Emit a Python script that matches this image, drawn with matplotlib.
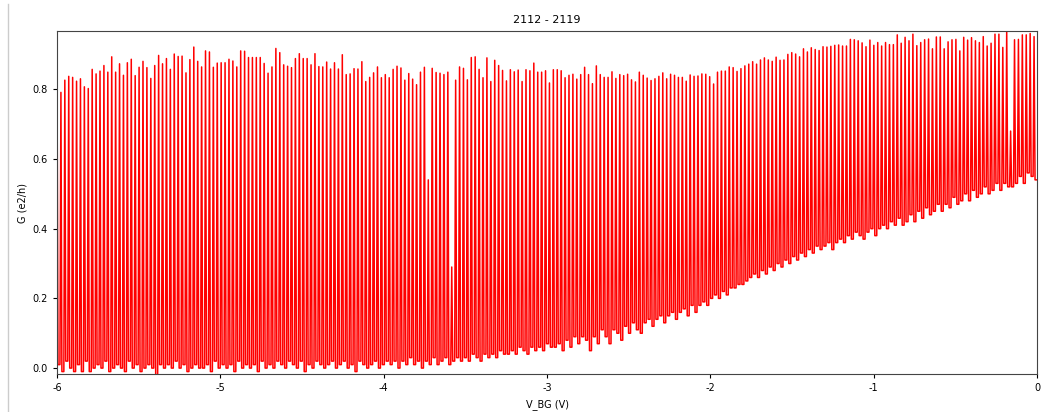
import numpy as np
import matplotlib.pyplot as plt

plt.rcParams['axes.unicode_minus'] = False

# G maxima of each resonance along the back-gate sweep (e2/h), left to right
peaks_1 = [0.842, 0.791, 0.826, 0.837, 0.834, 0.823, 0.830, 0.807, 0.802, 0.857, 0.844, 0.852, 0.868, 0.849, 0.893,
           0.849, 0.873, 0.840, 0.876, 0.886, 0.839, 0.863, 0.880, 0.862, 0.831, 0.868, 0.897, 0.873, 0.888, 0.857,
           0.901, 0.894, 0.895, 0.847, 0.885, 0.921, 0.880, 0.864, 0.910, 0.907, 0.863, 0.875, 0.876]
peaks_2 = [0.876, 0.886, 0.881, 0.864, 0.910, 0.909, 0.891, 0.891, 0.891, 0.891, 0.874, 0.846, 0.864, 0.917, 0.905,
           0.870, 0.866, 0.862, 0.888, 0.902, 0.888, 0.888, 0.870, 0.902, 0.865, 0.864, 0.878, 0.858, 0.876, 0.858,
           0.899, 0.842, 0.844, 0.859, 0.858, 0.879, 0.822, 0.834, 0.847, 0.864, 0.833, 0.842]
peaks_3 = [0.833, 0.857, 0.866, 0.861, 0.826, 0.845, 0.829, 0.813, 0.849, 0.863, 0.540, 0.860, 0.848, 0.846, 0.842,
           0.849, 0.290, 0.826, 0.864, 0.860, 0.827, 0.891, 0.893, 0.857, 0.833, 0.890, 0.822, 0.883, 0.868, 0.854,
           0.824, 0.856, 0.850, 0.855, 0.822, 0.856, 0.853, 0.875, 0.849, 0.849, 0.853, 0.818, 0.856]
peaks_4 = [0.856, 0.853, 0.833, 0.840, 0.843, 0.829, 0.842, 0.863, 0.842, 0.816, 0.867, 0.842, 0.834, 0.834, 0.850,
           0.831, 0.842, 0.839, 0.843, 0.827, 0.821, 0.849, 0.840, 0.832, 0.825, 0.830, 0.837, 0.847, 0.830, 0.843,
           0.840, 0.834, 0.834, 0.823, 0.841, 0.837, 0.838, 0.844, 0.843, 0.836, 0.815, 0.849]
peaks_5 = [0.852, 0.852, 0.864, 0.862, 0.851, 0.859, 0.867, 0.872, 0.879, 0.872, 0.884, 0.890, 0.884, 0.880, 0.892,
           0.883, 0.884, 0.900, 0.905, 0.901, 0.893, 0.916, 0.907, 0.919, 0.914, 0.911, 0.922, 0.921, 0.923, 0.926,
           0.927, 0.924, 0.924, 0.943, 0.942, 0.939, 0.933, 0.922, 0.941, 0.926, 0.934, 0.924]
peaks_6 = [0.934, 0.928, 0.928, 0.956, 0.932, 0.949, 0.939, 0.958, 0.925, 0.934, 0.942, 0.944, 0.916, 0.950, 0.950,
           0.916, 0.936, 0.942, 0.943, 0.910, 0.949, 0.941, 0.948, 0.939, 0.934, 0.951, 0.924, 0.932, 0.958, 0.958,
           0.920, 0.967, 0.680, 0.942, 0.943, 0.956, 0.956, 0.960, 0.951]

# off-resonance floor of G after each peak
troughs_1 = [0.01, -0.01, 0.02, 0.00, -0.01, 0.01, -0.01, 0.02, -0.01, 0.00, 0.01, 0.00, 0.02, -0.01, 0.00,
             0.01, 0.00, -0.01, 0.02, 0.00, 0.01, -0.01, 0.00, 0.01, 0.00, -0.02, 0.01, 0.00, 0.01, 0.00,
             0.02, 0.00, 0.01, -0.01, 0.00, 0.01, 0.00, 0.00, 0.01, -0.01, 0.02, 0.00, 0.01]
troughs_2 = [0.00, 0.01, -0.01, 0.02, 0.00, 0.01, 0.00, 0.01, -0.01, 0.02, 0.00, 0.01, 0.00, 0.02, 0.01,
             0.00, 0.02, 0.01, 0.00, 0.02, -0.01, 0.01, 0.00, 0.02, 0.01, 0.00, 0.01, 0.02, 0.00, 0.01,
             0.02, 0.00, 0.01, -0.01, 0.02, 0.01, 0.00, 0.01, 0.02, 0.00, 0.01, 0.02]
troughs_3 = [0.01, 0.02, 0.00, 0.02, 0.01, 0.03, 0.01, 0.02, 0.00, 0.02, 0.01, 0.03, 0.01, 0.02, 0.03,
             0.01, 0.02, 0.03, 0.02, 0.03, 0.02, 0.04, 0.03, 0.02, 0.04, 0.03, 0.04, 0.03, 0.05, 0.04,
             0.04, 0.05, 0.04, 0.06, 0.05, 0.04, 0.06, 0.05, 0.06, 0.05, 0.07, 0.06, 0.06]
troughs_4 = [0.07, 0.05, 0.08, 0.06, 0.09, 0.07, 0.09, 0.08, 0.05, 0.09, 0.07, 0.11, 0.09, 0.07, 0.11,
             0.10, 0.08, 0.12, 0.10, 0.13, 0.11, 0.10, 0.13, 0.14, 0.12, 0.14, 0.15, 0.13, 0.15, 0.16,
             0.14, 0.16, 0.17, 0.15, 0.18, 0.16, 0.18, 0.19, 0.18, 0.20, 0.21, 0.20]
troughs_5 = [0.22, 0.21, 0.23, 0.23, 0.24, 0.24, 0.25, 0.26, 0.27, 0.26, 0.28, 0.27, 0.29, 0.28, 0.30,
             0.29, 0.31, 0.30, 0.32, 0.31, 0.33, 0.32, 0.34, 0.33, 0.35, 0.34, 0.35, 0.36, 0.34, 0.36,
             0.37, 0.36, 0.38, 0.37, 0.39, 0.38, 0.37, 0.39, 0.40, 0.38, 0.40, 0.41]
troughs_6 = [0.40, 0.42, 0.41, 0.43, 0.41, 0.42, 0.44, 0.42, 0.45, 0.43, 0.46, 0.44, 0.45, 0.47, 0.45,
             0.47, 0.46, 0.49, 0.47, 0.48, 0.50, 0.48, 0.51, 0.49, 0.50, 0.52, 0.50, 0.51, 0.53, 0.51,
             0.53, 0.52, 0.52, 0.53, 0.55, 0.53, 0.56, 0.55, 0.54]

peaks = np.concatenate([peaks_1, peaks_2, peaks_3, peaks_4, peaks_5, peaks_6])
troughs = np.concatenate([troughs_1, troughs_2, troughs_3, troughs_4, troughs_5, troughs_6])

# one sweep period = sharp peak, then the floor for the remaining three gate steps
G = np.column_stack([peaks, troughs, troughs, troughs]).ravel()
V = np.linspace(-6, 0, len(G))

fig = plt.figure(figsize=(10.48, 4.12), dpi=100)
ax = fig.add_axes([0.0544, 0.0922, 0.9351, 0.8325])
ax.plot(V, G, 'r', lw=1.1)
ax.set_xlim(-6, 0)
ax.set_ylim(-0.017, 0.967)
ax.set_xticks([-6, -5, -4, -3, -2, -1, 0])
ax.set_yticks([0.0, 0.2, 0.4, 0.6, 0.8])
ax.tick_params(labelsize=7, length=3)
ax.set_xlabel('V_BG (V)', fontsize=7)
ax.set_ylabel('G (e2/h)', fontsize=7)
ax.set_title('2112 - 2119', fontsize=8)
for s in ax.spines.values():
    s.set_color('#444444')

fig.add_artist(plt.Line2D([0.0076, 0.0076], [0.0, 0.99], color='#cccccc', lw=1))
fig.savefig('out.png', dpi=100)
